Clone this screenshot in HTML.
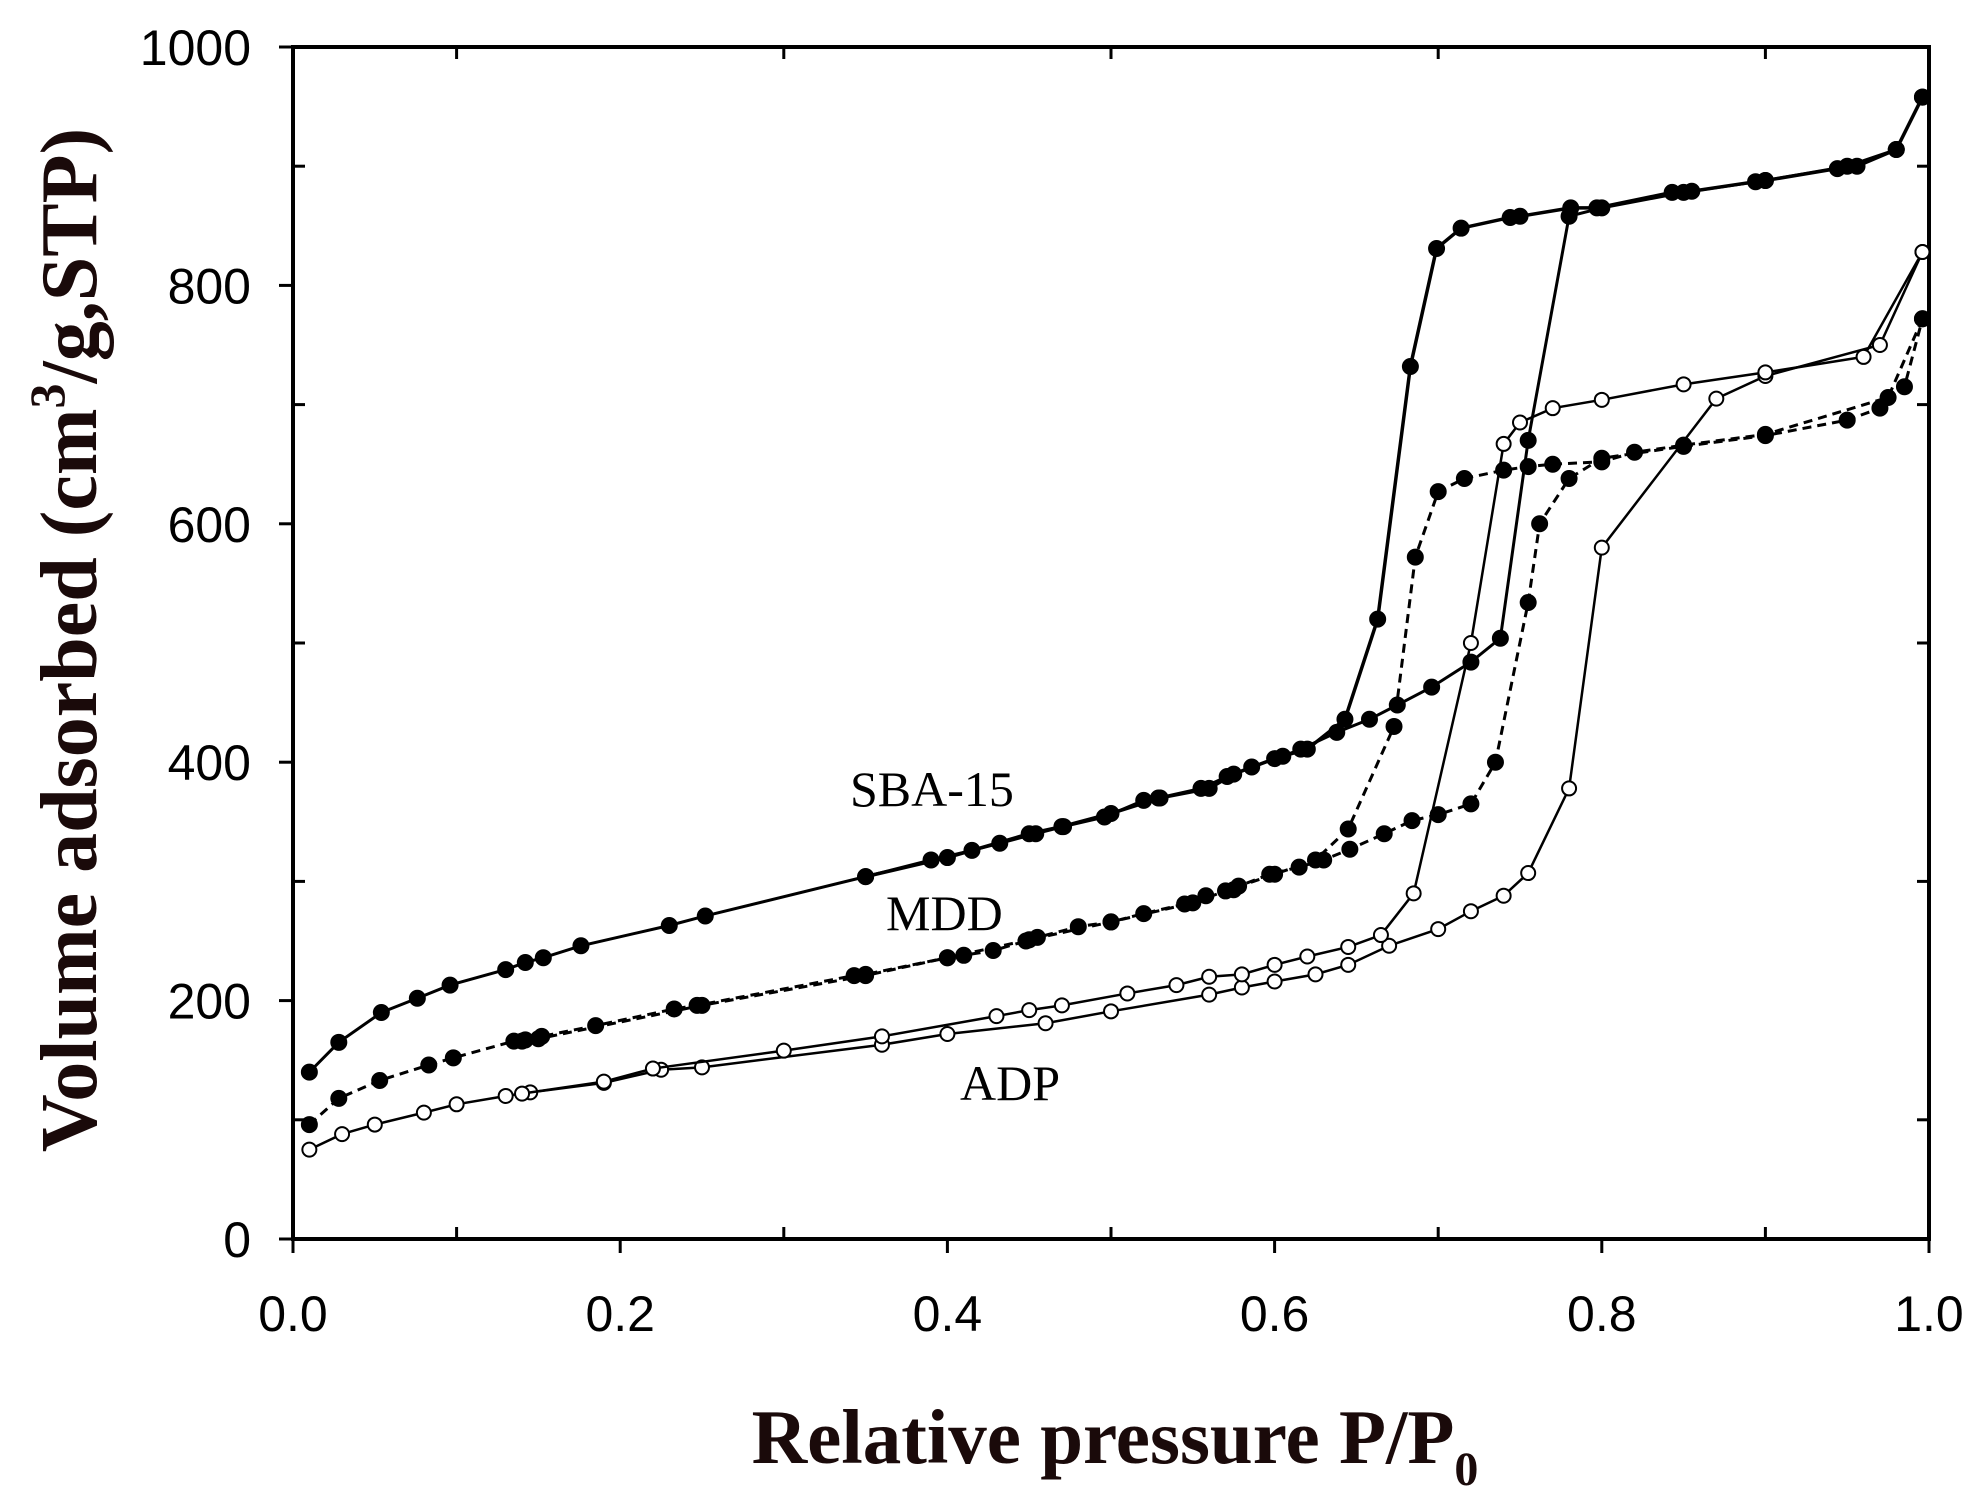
<!DOCTYPE html>
<html><head><meta charset="utf-8"><style>
html,body{margin:0;padding:0;background:#fff;}
svg{display:block;}
</style></head><body>
<svg id="chart" width="1982" height="1491" viewBox="0 0 1982 1491" xmlns="http://www.w3.org/2000/svg">
<g id="axes"></g>
<g id="series"></g>
<text x="850" y="806" font-family="Liberation Serif, serif" font-size="50">SBA-15</text>
<text x="886" y="930" font-family="Liberation Serif, serif" font-size="50">MDD</text>
<text x="960" y="1100" font-family="Liberation Serif, serif" font-size="50">ADP</text>
<text transform="translate(96,640) rotate(-90)" text-anchor="middle" font-family="Liberation Serif, serif" font-weight="bold" font-size="80" fill="#1a0a0a">Volume adsorbed (cm<tspan font-size="50" dy="-32">3</tspan><tspan dy="32">/g,STP)</tspan></text>
<text x="1115" y="1463" text-anchor="middle" font-family="Liberation Serif, serif" font-weight="bold" font-size="77" fill="#1a0a0a">Relative pressure P/P<tspan font-size="48" dy="22">0</tspan></text>
</svg>
<script>
const xTicks=[0,0.2,0.4,0.6,0.8,1.0];
const xTickLabels=["0.0","0.2","0.4","0.6","0.8","1.0"];
const yTicks=[0,200,400,600,800,1000];
const yTickLabels=["0","200","400","600","800","1000"];
const sbaAdsX=[0.01,0.028,0.054,0.076,0.096,0.13,0.142,0.153,0.176,0.23,0.252,0.35,0.39,0.415,0.432,0.454,0.471,0.496,0.52,0.529,0.555,0.571,0.586,0.605,0.616,0.638,0.658,0.675,0.696,0.72,0.738,0.755,0.78,0.8,0.85,0.9,0.95,0.98,0.996];
const sbaAdsY=[140,165,190,202,213,226,232,236,246,263,271,304,318,326,332,340,346,354,368,370,378,388,396,405,411,425,436,448,463,484,504,670,858,865,878,888,900,914,958];
const sbaDesX=[0.996,0.98,0.956,0.944,0.9,0.894,0.855,0.843,0.797,0.781,0.75,0.744,0.714,0.699,0.683,0.663,0.643,0.62,0.6,0.575,0.56,0.53,0.5,0.47,0.45,0.4,0.35];
const sbaDesY=[958,914,900,898,888,887,879,878,865,865,858,857,848,831,732,520,436,411,403,390,378,370,357,346,340,320,304];
const mddAdsX=[0.01,0.028,0.053,0.083,0.098,0.135,0.142,0.152,0.185,0.233,0.247,0.343,0.35,0.4,0.41,0.428,0.448,0.455,0.48,0.5,0.52,0.545,0.558,0.575,0.578,0.597,0.615,0.63,0.646,0.667,0.684,0.7,0.72,0.735,0.755,0.762,0.78,0.8,0.85,0.9,0.95,0.97,0.985,0.996];
const mddAdsY=[96,118,133,146,152,166,167,170,179,193,196,221,222,236,238,242,250,253,262,266,273,281,288,293,296,306,312,318,327,340,351,356,365,400,534,600,638,655,665,674,687,697,715,772];
const mddDesX=[0.996,0.975,0.9,0.85,0.82,0.8,0.77,0.755,0.74,0.716,0.7,0.686,0.673,0.645,0.625,0.6,0.57,0.55,0.5,0.45,0.4,0.35,0.25,0.15,0.14];
const mddDesY=[772,706,675,666,660,652,650,648,645,638,627,572,430,344,318,306,292,282,266,251,236,221,196,168,166];
const adpAdsX=[0.01,0.03,0.05,0.08,0.1,0.13,0.145,0.19,0.225,0.25,0.36,0.4,0.46,0.5,0.56,0.58,0.6,0.625,0.645,0.67,0.7,0.72,0.74,0.755,0.78,0.8,0.87,0.9,0.97,0.996];
const adpAdsY=[75,88,96,106,113,120,123,131,142,144,163,172,181,191,205,211,216,222,230,246,260,275,288,307,378,580,705,724,750,828];
const adpDesX=[0.996,0.96,0.9,0.85,0.8,0.77,0.75,0.74,0.72,0.685,0.665,0.645,0.62,0.6,0.58,0.56,0.54,0.51,0.47,0.45,0.43,0.36,0.3,0.22,0.19,0.14];
const adpDesY=[828,740,727,717,704,697,685,667,500,290,255,245,237,230,222,220,213,206,196,192,187,170,158,143,132,122];

const L=293,R=1929,T=47,B=1239;
const sx=v=>L+(R-L)*v;
const sy=v=>B-(B-T)*v/1000;
const NS="http://www.w3.org/2000/svg";
const axes=document.getElementById('axes');
const ser=document.getElementById('series');
function mk(tag,attrs,parent){const e=document.createElementNS(NS,tag);for(const k in attrs)e.setAttribute(k,attrs[k]);parent.appendChild(e);return e;}

const frame=mk('rect',{x:L,y:T,width:R-L,height:B-T,fill:'none',stroke:'#000','stroke-width':4},axes);


for(let i=0;i<=10;i++){
  const v=i/10,x=sx(v),major=i%2===0;
  const t=mk('line',{x1:x,x2:x,y1:major?B+14:B,y2:B-(major?0:12),stroke:'#000','stroke-width':3},axes);
  
  
  const t2=mk('line',{x1:x,x2:x,y1:T,y2:T+(major?0:12),stroke:'#000','stroke-width':3},axes);
  
  
}
xTicks.forEach((v,i)=>{
  const tx=mk('text',{x:sx(v),y:B+92,'text-anchor':'middle','font-family':'Liberation Sans, sans-serif','font-size':50},axes);
  tx.textContent=xTickLabels[i];
  
  
});
for(let i=0;i<=10;i++){
  const v=i*100,y=sy(v),major=i%2===0;
  const t=mk('line',{x1:major?L-14:L,x2:L+(major?0:12),y1:y,y2:y,stroke:'#000','stroke-width':3},axes);
  
  
  const t2=mk('line',{x1:R,x2:R-(major?0:12),y1:y,y2:y,stroke:'#000','stroke-width':3},axes);
  
  
}
yTicks.forEach((v,i)=>{
  const ty=mk('text',{x:L-42,y:sy(v)+18,'text-anchor':'end','font-family':'Liberation Sans, sans-serif','font-size':50},axes);
  ty.textContent=yTickLabels[i];
  
  
});

function draw(xs,ys,name,dash,width,open){
  const g=mk('g',{},ser);
  
  
  const pts=xs.map((x,i)=>sx(x)+','+sy(ys[i])).join(' ');
  const pl=mk('polyline',{points:pts,fill:'none',stroke:'#000','stroke-width':width,'stroke-dasharray':dash},g);
  
  
  xs.forEach((x,i)=>{
    const c=mk('circle',{cx:sx(x),cy:sy(ys[i]),r:open?7:8,fill:open?'#fff':'#000',stroke:'#000','stroke-width':open?2:1},g);
    
    
  });
}
draw(adpAdsX,adpAdsY,'adp-adsorption','none',2.5,true);
draw(adpDesX,adpDesY,'adp-desorption','none',2.5,true);
draw(mddAdsX,mddAdsY,'mdd-adsorption','9,6',3,false);
draw(mddDesX,mddDesY,'mdd-desorption','9,6',3,false);
draw(sbaAdsX,sbaAdsY,'sba15-adsorption','none',3,false);
draw(sbaDesX,sbaDesY,'sba15-desorption','none',3.5,false);
</script>
</body></html>
